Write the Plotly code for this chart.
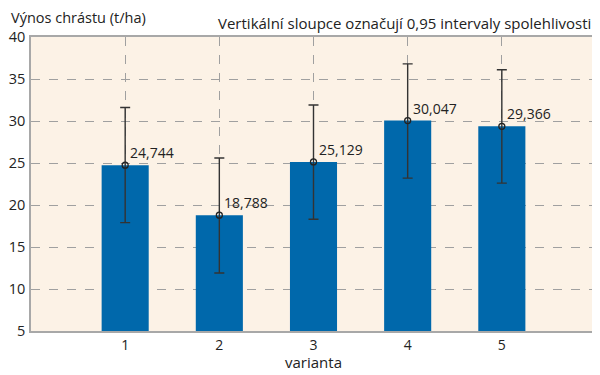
import plotly.graph_objects as go

varianta = [1, 2, 3, 4, 5]
vynos = [24.744, 18.788, 25.129, 30.047, 29.366]
ci_upper = [31.6, 25.6, 31.9, 36.8, 36.1]
ci_lower = [17.9, 11.9, 18.3, 23.2, 22.6]
labels = ["24,744", "18,788", "25,129", "30,047", "29,366"]

err_plus = [u - v for u, v in zip(ci_upper, vynos)]
err_minus = [v - l for v, l in zip(vynos, ci_lower)]

FONT = "Open Sans"
BAR = "#0068AB"
BG = "#FCF2E6"
GRID = "#A0A0A0"
INK = "#222222"

fig = go.Figure()
fig.add_trace(go.Bar(
    x=varianta, y=vynos,
    width=0.5, marker=dict(color=BAR, line=dict(width=0)),
    hoverinfo="skip",
))
fig.add_trace(go.Scatter(
    x=varianta, y=vynos, mode="markers",
    marker=dict(symbol="circle-open", size=6, color=INK, line=dict(width=1.3, color=INK)),
    error_y=dict(type="data", symmetric=False, array=err_plus, arrayminus=err_minus,
                 color="#333333", thickness=1.4, width=5),
    hoverinfo="skip",
))
for x, y, t in zip(varianta, vynos, labels):
    fig.add_annotation(x=x, y=y, text=t, showarrow=False, xanchor="left", yanchor="bottom",
                       xshift=3, yshift=1, font=dict(family=FONT, size=14, color=INK))

# the page body adds an 8px offset; figure is sized/margined to compensate
fig.add_annotation(xref="paper", yref="paper", x=-0.0389, y=1.0, yshift=19.5, text="Výnos chrástu (t/ha)",
                   showarrow=False, xanchor="left", yanchor="middle",
                   font=dict(family=FONT, size=14.5, color=INK))
fig.add_annotation(xref="paper", yref="paper", x=0.9947, y=1.0, yshift=14, text="Vertikální sloupce označují 0,95 intervaly spolehlivosti",
                   showarrow=False, xanchor="right", yanchor="middle",
                   font=dict(family=FONT, size=15, color=INK))
fig.add_annotation(xref="paper", yref="paper", x=0.5, y=0, yshift=-31, text="varianta",
                   showarrow=False, xanchor="center", yanchor="middle",
                   font=dict(family=FONT, size=15, color=INK))

fig.update_layout(
    width=592, height=367,
    margin=dict(l=23, r=4, t=29, b=44),
    paper_bgcolor="white", plot_bgcolor=BG,
    showlegend=False,
    font=dict(family=FONT, size=14, color=INK),
    xaxis=dict(range=[0, 6], tickvals=varianta, ticktext=[str(v) for v in varianta],
               showgrid=True, gridcolor=GRID, griddash="dash", gridwidth=1,
               showline=True, linecolor="#A8A8A8", linewidth=1.5, mirror=True,
               ticks="", zeroline=False, automargin=False, ticklabelstandoff=0,
               tickfont=dict(family=FONT, size=14, color=INK)),
    yaxis=dict(range=[5, 40], tickvals=[5, 10, 15, 20, 25, 30, 35, 40],
               showgrid=True, gridcolor=GRID, griddash="dash", gridwidth=1,
               showline=True, linecolor="#A8A8A8", linewidth=1.5, mirror=True,
               ticks="", zeroline=False, automargin=False, ticklabelstandoff=1,
               tickfont=dict(family=FONT, size=14.5, color=INK)),
)
fig.write_html("out.html")
